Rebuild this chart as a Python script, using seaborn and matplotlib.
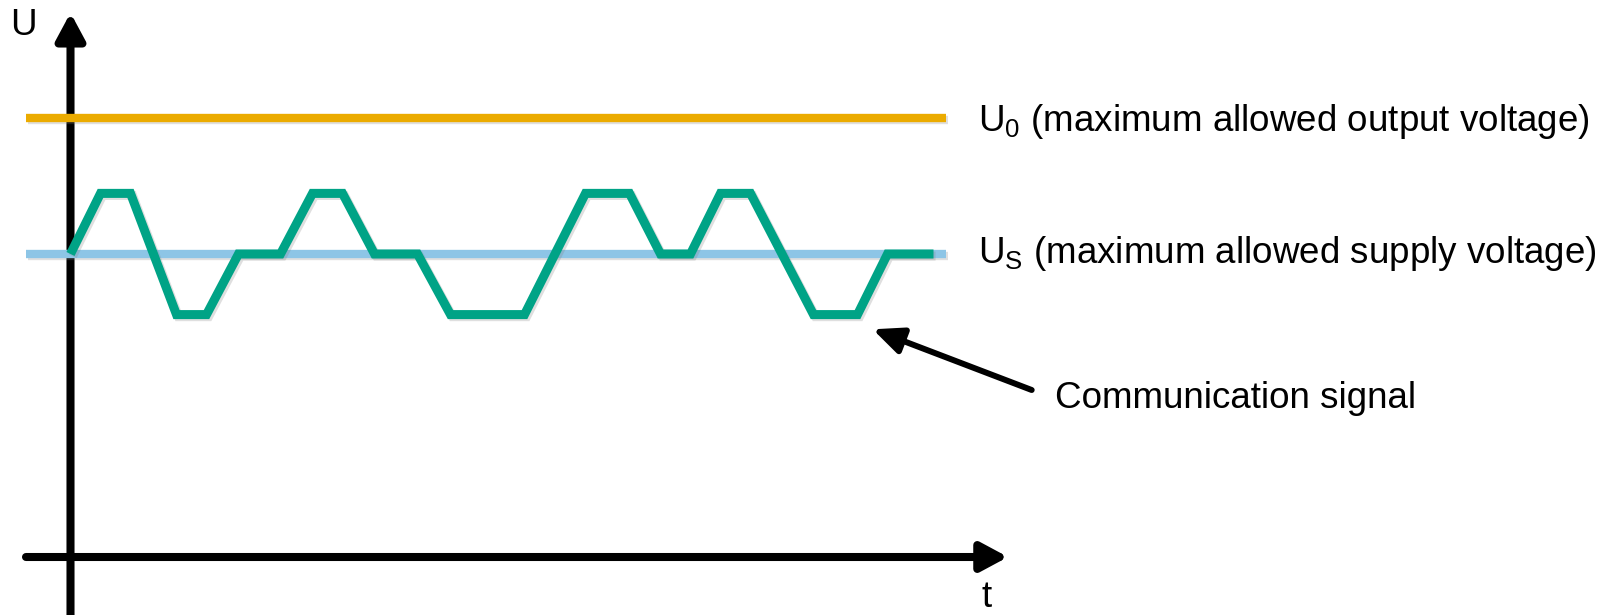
import seaborn as sns
import matplotlib.pyplot as plt
import matplotlib.patheffects as pe

# --- data (t in 10 px steps, U in signal levels) ---
signal_t = [0, 3.0, 6.0, 10.6, 13.6, 16.8, 21.0, 24.2, 27.2, 30.4, 34.7, 38.0,
            45.4, 51.5, 55.9, 59.0, 62.0, 65.0, 68.0, 74.3, 78.7, 81.7, 86.3]
signal_u = [5, 6, 6, 4, 4, 5, 5, 6, 6, 5, 5, 4,
            4, 6, 6, 5, 5, 6, 6, 4, 4, 5, 5]
limit_t = [-4.45, 87.55]
u0_level = 7.25   # maximum allowed output voltage
us_level = 5.0    # maximum allowed supply voltage

label_u0 = r"U$_\mathrm{0}$ (maximum allowed output voltage)"
label_us = r"U$_\mathrm{S}$ (maximum allowed supply voltage)"
label_sig = "Communication signal"

sns.set_theme(style="white")
plt.rcParams["font.family"] = ["Liberation Sans", "DejaVu Sans"]
plt.rcParams["text.color"] = "black"
plt.rcParams["mathtext.fontset"] = "custom"
plt.rcParams["mathtext.rm"] = "Liberation Sans"
plt.rcParams["mathtext.it"] = "Liberation Sans:italic"

W, H = 1616, 615
fig = plt.figure(figsize=(W / 100, H / 100), dpi=100)
ax = fig.add_axes([0, 0, 1, 1])
ax.set_xlim(-7.05, 154.55)
ax.set_ylim(-0.957, 9.191)
ax.axis("off")

shadow = [pe.SimpleLineShadow(offset=(1.5, -1.5), shadow_color="gray", alpha=0.25), pe.Normal()]

# axes with arrow heads
axis_arrow = dict(arrowstyle="-|>,head_length=16,head_width=8.6", mutation_scale=1,
                  lw=5.8, color="black", shrinkA=0, shrinkB=0)
ax.annotate("", xy=(93.75, 0), xytext=(-4.45, 0), arrowprops=axis_arrow, zorder=1)
ax.annotate("", xy=(0, 8.98), xytext=(0, -1.2), arrowprops=axis_arrow, zorder=1)

# limit lines and signal
sns.lineplot(x=limit_t, y=[u0_level] * 2, color="#EBAB00", lw=6.0, ax=ax,
             solid_capstyle="butt", path_effects=shadow, zorder=2)
sns.lineplot(x=limit_t, y=[us_level] * 2, color="#8DC5E6", lw=6.0, ax=ax,
             solid_capstyle="butt", path_effects=shadow, zorder=2)
sns.lineplot(x=signal_t, y=signal_u, color="#00A386", lw=6.5, ax=ax, sort=False,
             estimator=None, solid_capstyle="butt", solid_joinstyle="miter",
             path_effects=shadow, zorder=3)

# labels (positions in pixels of the reference)
def px(x, y):
    return (x / W, 1 - y / H)

fs = 26.5
ax.text(*px(10.5, 35), "U", transform=ax.transAxes, fontsize=fs, va="baseline", ha="left")
ax.text(*px(982, 607), "t", transform=ax.transAxes, fontsize=fs, va="baseline", ha="left")
ax.text(*px(978, 131), label_u0, transform=ax.transAxes, fontsize=fs, va="baseline", ha="left")
ax.text(*px(978, 263), label_us, transform=ax.transAxes, fontsize=fs, va="baseline", ha="left")
ax.text(*px(1055, 408), label_sig, transform=ax.transAxes, fontsize=fs, va="baseline", ha="left")

ax.annotate("", xy=px(872.7, 329.3), xytext=px(1031.7, 390),
            xycoords="axes fraction", textcoords="axes fraction",
            arrowprops=dict(arrowstyle="-|>,head_length=18,head_width=8", mutation_scale=1,
                            lw=4.3, color="black", shrinkA=0, shrinkB=0))

fig.savefig("out.png", dpi=100)
